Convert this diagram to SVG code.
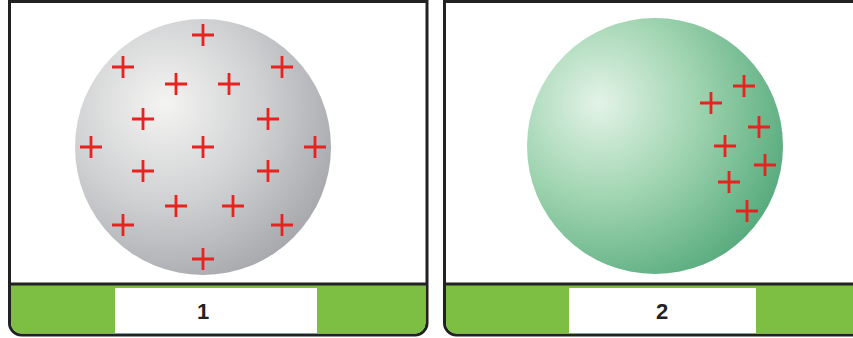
<svg xmlns="http://www.w3.org/2000/svg" width="853" height="338" viewBox="0 0 853 338">
<defs>
<radialGradient id="gGray" cx="0.35" cy="0.35" r="0.7" fx="0.35" fy="0.33">
<stop offset="0" stop-color="#f4f4f2"/>
<stop offset="0.55" stop-color="#cfd0d2"/>
<stop offset="1" stop-color="#a9aaae"/>
</radialGradient>
<radialGradient id="gGreen" cx="0.3" cy="0.35" r="0.75" fx="0.28" fy="0.33">
<stop offset="0" stop-color="#e3f3e7"/>
<stop offset="0.5" stop-color="#9fd4b0"/>
<stop offset="1" stop-color="#58ab7e"/>
</radialGradient>
<path id="plus" d="M-11,0H11M0,-11V11"/>
</defs>
<style>
.frame{fill:#fff;stroke:#222;stroke-width:3}
.bar{fill:#7cbf43}
.sep{stroke:#222;stroke-width:3}
.lbl{fill:#fff}
.txt{font-family:"Liberation Sans",Arial,sans-serif;font-weight:bold;font-size:22px;fill:#222;text-anchor:middle}
.p use{stroke:#e8231f;stroke-width:2.8;fill:none}
</style>
<rect width="853" height="338" fill="#fff"/>
<g id="panel1">
<path class="frame" d="M9.5,-2V323a12,12 0 0 0 12,12H415a12,12 0 0 0 12,-12V-2"/>
<path class="bar" d="M11,285H425.5V323a10.5,10.5 0 0 1 -10.5,10.5H21.5a10.5,10.5 0 0 1 -10.5,-10.5Z"/>
<line class="sep" x1="9.5" y1="284" x2="427" y2="284"/>
<path class="frame" d="M9.5,1.5H427"/>
<rect class="lbl" x="115" y="288" width="202" height="45"/>
<text class="txt" x="203" y="319">1</text>
<circle cx="203" cy="147" r="128" fill="url(#gGray)"/>
<g class="p">
<use href="#plus" x="203" y="35"/>
<use href="#plus" x="123" y="67"/>
<use href="#plus" x="282" y="67"/>
<use href="#plus" x="176" y="84"/>
<use href="#plus" x="229" y="84"/>
<use href="#plus" x="143" y="119"/>
<use href="#plus" x="268" y="119"/>
<use href="#plus" x="91" y="147"/>
<use href="#plus" x="203" y="147"/>
<use href="#plus" x="315" y="147"/>
<use href="#plus" x="143" y="171"/>
<use href="#plus" x="268" y="171"/>
<use href="#plus" x="176" y="206"/>
<use href="#plus" x="233" y="206"/>
<use href="#plus" x="123" y="225"/>
<use href="#plus" x="282" y="225"/>
<use href="#plus" x="203" y="259"/>
</g>
</g>
<g id="panel2">
<path class="frame" d="M444.5,-2V323a12,12 0 0 0 12,12H860V-2"/>
<path class="bar" d="M446,285H855V333.5H456.5a10.5,10.5 0 0 1 -10.5,-10.5Z"/>
<line class="sep" x1="444.5" y1="284" x2="855" y2="284"/>
<path class="frame" d="M444.5,1.5H855"/>
<rect class="lbl" x="569" y="288" width="187" height="45"/>
<text class="txt" x="662" y="319">2</text>
<circle cx="655" cy="146" r="128" fill="url(#gGreen)"/>
<g class="p">
<use href="#plus" x="711" y="103"/>
<use href="#plus" x="744" y="86"/>
<use href="#plus" x="759" y="127"/>
<use href="#plus" x="725" y="146"/>
<use href="#plus" x="765" y="165"/>
<use href="#plus" x="729" y="182"/>
<use href="#plus" x="747" y="211"/>
</g>
</g>
</svg>
